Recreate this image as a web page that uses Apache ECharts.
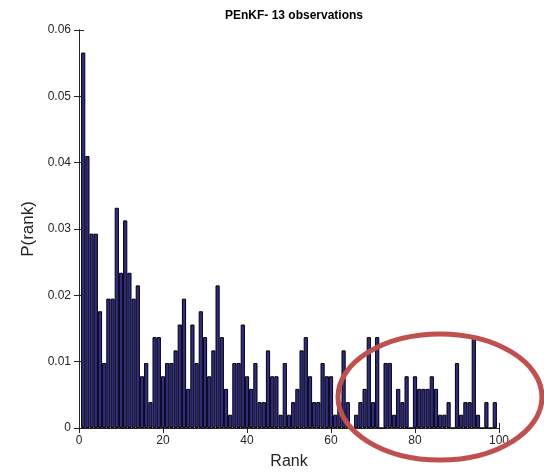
<!DOCTYPE html>
<html>
<head>
<meta charset="utf-8">
<script src="https://cdn.jsdelivr.net/npm/echarts@6/dist/echarts.min.js"></script>
<style>
html,body{margin:0;padding:0;background:#fff;}
#c{width:544px;height:475px;}
</style>
</head>
<body>
<div id="c"></div>
<script>
var titleText = 'PEnKF- 13 observations';
var xName = 'Rank';
var yName = 'P(rank)';
var xTicks = [0, 20, 40, 60, 80, 100];
var yTicks = [0, 0.01, 0.02, 0.03, 0.04, 0.05, 0.06];

var ranks = [1,2,3,4,5,6,7,8,9,10,11,12,13,14,15,16,17,18,19,20,
  21,22,23,24,25,26,27,28,29,30,31,32,33,34,35,36,37,38,39,40,
  41,42,43,44,45,46,47,48,49,50,51,52,53,54,55,56,57,58,59,60,
  61,62,63,64,65,66,67,68,69,70,71,72,73,74,75,76,77,78,79,80,
  81,82,83,84,85,86,87,88,89,90,91,92,93,94,95,96,97,98,99];

var probs = [0.0566,0.0410,0.0293,0.0293,0.0176,0.0098,0.0195,0.0195,0.0332,0.0234,
  0.0313,0.0234,0.0195,0.0215,0.0078,0.0098,0.0039,0.0137,0.0137,0.0078,
  0.0098,0.0098,0.0117,0.0156,0.0195,0.0059,0.0156,0.0098,0.0176,0.0137,
  0.0078,0.0117,0.0215,0.0137,0.0059,0.0020,0.0098,0.0098,0.0156,0.0078,
  0.0059,0.0098,0.0039,0.0039,0.0117,0.0078,0.0078,0.0020,0.0098,0.0020,
  0.0039,0.0059,0.0117,0.0137,0.0078,0.0039,0.0039,0.0098,0.0078,0.0078,
  0.0020,0.0039,0.0117,0.0039,0,0.0020,0.0039,0.0059,0.0137,0.0039,
  0.0137,0,0.0098,0.0098,0.0020,0.0059,0.0039,0.0078,0,0.0078,
  0.0059,0.0059,0.0059,0.0078,0.0059,0.0020,0.0020,0.0039,0,0.0098,
  0.0020,0.0039,0.0039,0.0137,0.0020,0,0.0039,0,0.0039];

var data = ranks.map(function(r, i){ return [r, probs[i]]; });

var chart = echarts.init(document.getElementById('c'), null, {renderer:'canvas'});
var labelFont = {color:'#262626', fontSize:12, fontFamily:'Liberation Sans, Arial, sans-serif'};
var lineStyle = {color:'#262626', width:1};

chart.setOption({
  animation:false,
  backgroundColor:'#fff',
  title:{
    text:titleText, left:289, top:5, textAlign:'center',
    textStyle:{fontSize:12, fontWeight:'bold', color:'#000', fontFamily:'Liberation Sans, Arial, sans-serif'}
  },
  grid:{left:79, right:45, top:30, bottom:45, show:false},
  xAxis:[{
    type:'value', min:0, max:100, interval:20,
    name:xName, nameLocation:'middle', nameGap:26,
    nameTextStyle:{fontSize:16, color:'#262626', fontFamily:'Liberation Sans, Arial, sans-serif'},
    axisLine:{show:true, lineStyle:lineStyle},
    axisTick:{show:true, inside:true, length:5, lineStyle:lineStyle},
    axisLabel:Object.assign({margin:7, formatter:function(v){return xTicks.indexOf(v)>=0? String(v):'';}}, labelFont),
    splitLine:{show:false}
  },{
    type:'value', min:0, max:100, interval:20, position:'top',
    axisLine:{show:true, lineStyle:lineStyle},
    axisTick:{show:true, inside:true, length:5, lineStyle:lineStyle},
    axisLabel:{show:false}, splitLine:{show:false}
  }],
  yAxis:[{
    type:'value', min:0, max:0.06, interval:0.01,
    name:yName, nameLocation:'middle', nameGap:40,
    nameTextStyle:{fontSize:17, color:'#262626', fontFamily:'Liberation Sans, Arial, sans-serif'},
    axisLine:{show:true, lineStyle:lineStyle},
    axisTick:{show:true, inside:true, length:5, lineStyle:lineStyle},
    axisLabel:Object.assign({margin:8, formatter:function(v){
      for (var i=0;i<yTicks.length;i++){ if (Math.abs(yTicks[i]-v)<1e-9) return String(yTicks[i]); }
      return '';
    }}, labelFont),
    splitLine:{show:false}
  },{
    type:'value', min:0, max:0.06, interval:0.01, position:'right',
    axisLine:{show:true, lineStyle:lineStyle},
    axisTick:{show:true, inside:true, length:5, lineStyle:lineStyle},
    axisLabel:{show:false}, splitLine:{show:false}
  }],
  series:[{
    type:'bar', xAxisIndex:0, yAxisIndex:0,
    data:data, barCategoryGap:'0%',
    itemStyle:{color:'#2f2b8c', borderColor:'#000', borderWidth:1}
  }],
  graphic:[{
    type:'ellipse', z:100,
    shape:{cx:440, cy:397, rx:102, ry:63},
    style:{fill:'none', stroke:'#c0504d', lineWidth:5}
  }]
});
</script>
</body>
</html>
